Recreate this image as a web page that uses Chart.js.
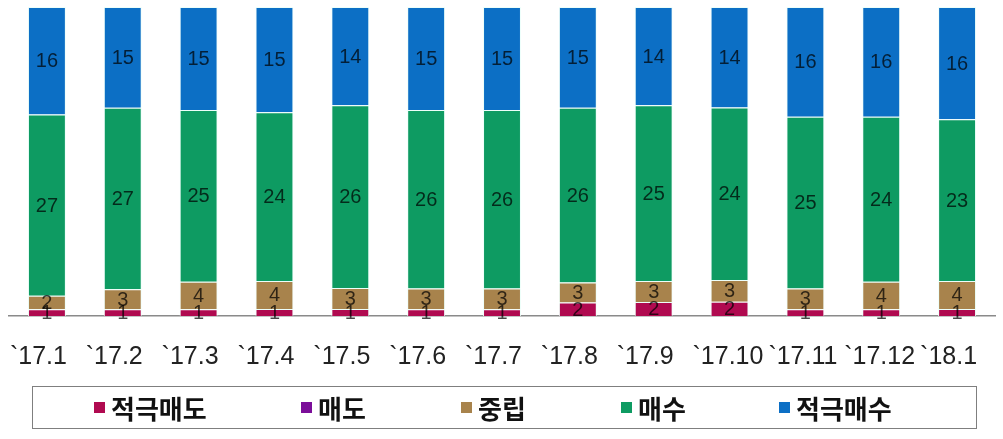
<!DOCTYPE html>
<html>
<head>
<meta charset="utf-8">
<script src="https://cdn.jsdelivr.net/npm/chart.js@4.4.1/dist/chart.umd.min.js"></script>
<style>
  html, body { margin: 0; padding: 0; background: #ffffff; }
  #wrap { position: relative; width: 1003px; height: 439px; overflow: hidden; }
  #chart { position: absolute; left: 0; top: 0; }
  #legend {
    position: absolute; left: 32px; top: 386px; width: 943px; height: 41px;
    border: 1.5px solid #7f7f7f; box-sizing: content-box;
    font-family: "Noto Sans CJK KR", "Noto Sans", sans-serif; font-size: 26px; font-weight: 700; color: #111;
  }
  .item { position: absolute; top: 0; height: 41px; display: flex; align-items: center; white-space: nowrap; }
  .mk { width: 11px; height: 11px; margin-right: 6px; }
</style>
</head>
<body>
<div id="wrap">
  <canvas id="chart" width="1003" height="439"></canvas>
  <div id="legend"></div>
</div>
<script>
// ---- data ----
const categories = ["`17.1", "`17.2", "`17.3", "`17.4", "`17.5", "`17.6", "`17.7", "`17.8", "`17.9", "`17.10", "`17.11", "`17.12", "`18.1"];
const seriesNames = ["적극매도", "매도", "중립", "매수", "적극매수"];
const strongSell = [1, 1, 1, 1, 1, 1, 1, 2, 2, 2, 1, 1, 1];
const sell       = [0, 0, 0, 0, 0, 0, 0, 0, 0, 0, 0, 0, 0];
const neutral    = [2, 3, 4, 4, 3, 3, 3, 3, 3, 3, 3, 4, 4];
const buy        = [27, 27, 25, 24, 26, 26, 26, 26, 25, 24, 25, 24, 23];
const strongBuy  = [16, 15, 15, 15, 14, 15, 15, 15, 14, 14, 16, 16, 16];

// ---- styles ----
const colors = ["#B00A50", "#7B0E99", "#A8834C", "#0E9B62", "#0C6FC5"];
const rawSeries = [strongSell, sell, neutral, buy, strongBuy];

// 100% stacked: normalise each category by its total
const totals = categories.map((_, i) => rawSeries.reduce((s, arr) => s + arr[i], 0));
const datasets = rawSeries.map((arr, k) => ({
  label: seriesNames[k],
  data: arr.map((v, i) => v / totals[i] * 100),
  raw: arr,
  backgroundColor: colors[k],
  borderColor: "rgba(235,255,250,0.9)",
  borderWidth: 1,
  barPercentage: 0.5,
  categoryPercentage: 1.0
}));

const valueLabels = {
  id: "valueLabels",
  afterDatasetsDraw(chart) {
    const ctx = chart.ctx;
    ctx.save();
    ctx.font = "20px 'Liberation Sans', Arial, sans-serif";
    ctx.fillStyle = "rgba(0,0,0,0.72)";
    ctx.textAlign = "center";
    ctx.textBaseline = "middle";
    chart.data.datasets.forEach((ds, di) => {
      const meta = chart.getDatasetMeta(di);
      meta.data.forEach((el, i) => {
        const v = ds.raw[i];
        if (!v) return;
        const p = el.getProps(["x", "y", "base"], true);
        ctx.fillText(String(v), p.x, (p.y + p.base) / 2 + 1);
      });
    });
    ctx.restore();
  }
};

const chart = new Chart(document.getElementById("chart"), {
  type: "bar",
  data: { labels: categories, datasets },
  options: {
    responsive: false,
    animation: false,
    layout: { padding: { left: 9, right: 8, top: 7, bottom: 41 } },
    plugins: { legend: { display: false }, tooltip: { enabled: false } },
    scales: {
      x: {
        stacked: true,
        grid: { display: false, drawTicks: false },
        border: { display: true, color: "#8a8a8a", width: 1.5 },
        afterFit(scale) { scale.paddingLeft = 0; scale.paddingRight = 0; },
        ticks: {
          font: { family: "'Liberation Sans', Arial, sans-serif", size: 25 },
          color: "#222",
          padding: 26,
          align: "start",
          labelOffset: -37,
          maxRotation: 0,
          autoSkip: false
        }
      },
      y: { stacked: true, display: false, min: 0, max: 100 }
    }
  },
  plugins: [valueLabels]
});

// HTML legend built from the datasets
const legend = document.getElementById("legend");
const itemLefts = [61, 268, 428, 588, 746];
seriesNames.forEach((name, k) => {
  const it = document.createElement("div");
  it.className = "item";
  it.style.left = itemLefts[k] + "px";
  const mk = document.createElement("span");
  mk.className = "mk";
  mk.style.background = colors[k];
  const tx = document.createElement("span");
  tx.textContent = name;
  it.appendChild(mk); it.appendChild(tx);
  legend.appendChild(it);
});
</script>
</body>
</html>
